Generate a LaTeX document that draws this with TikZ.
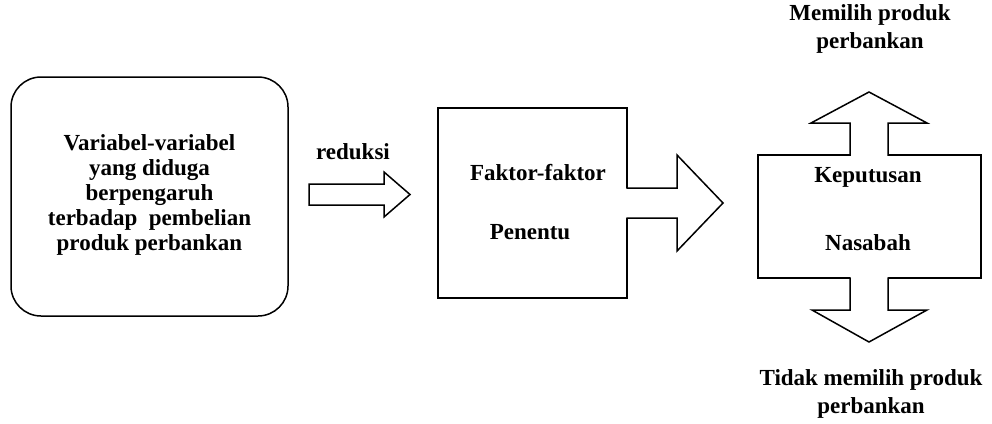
\documentclass[tikz,border=0pt]{standalone}
\usepackage{fontspec}
\setmainfont{Liberation Serif}
\usetikzlibrary{positioning}

\tikzset{
  lbl/.style={font=\fontsize{23}{25}\selectfont\bfseries, align=center, inner sep=0pt},
  frame/.style={draw, line width=1.5pt},
  hollow/.style={draw, line width=1.5pt, line join=miter},
}

\begin{document}
\begin{tikzpicture}[x=1pt, y=-1pt]
    \useasboundingbox (0,0) rectangle (992,423);

    % input variables
    \node [frame, rounded corners=30pt, minimum width=277pt, minimum height=239pt] (vars) at (149.5,196.5) {};
    \node [lbl] (varstext) at (149.5,195) {Variabel-variabel\\yang diduga\\berpengaruh\\terbadap\ \ pembelian\\produk perbankan};

    % reduction step
    \node [lbl] (reduksi) at (353,152) {reduksi};
    \draw [hollow, fill=white] (309,184) -- (384,184) -- (384,172) -- (410,194.5) -- (384,217) -- (384,205) -- (309,205) -- cycle;

    % factors
    \node [frame, minimum width=189pt, minimum height=190pt] (faktor) at (532.5,203) {};
    \node [lbl] (faktorA) at (538,173) {Faktor-faktor};
    \node [lbl] (faktorB) at (530,232) {Penentu};

    \fill [white] (625,188) -- (677,188) -- (677,155) -- (723,203) -- (677,251) -- (677,218) -- (625,218) -- cycle;
    \draw [hollow] (626.25,188) -- (677,188) -- (677,155) -- (723,203) -- (677,251) -- (677,218) -- (626.25,218);

    % decision
    \node [frame, minimum width=223pt, minimum height=123pt] (keputusan) at (869.5,216.5) {};
    \node [lbl] (keputusanA) at (868,177) {Keputusan};
    \node [lbl] (keputusanB) at (868,243) {Nasabah};

    \fill [white] (850,157) -- (850,123) -- (811,123) -- (869,92) -- (927,123) -- (888,123) -- (888,157) -- cycle;
    \draw [hollow] (850,155.75) -- (850,123) -- (811,123) -- (869,92) -- (927,123) -- (888,123) -- (888,155.75);

    \fill [white] (850,276) -- (850,310) -- (812,310) -- (869,342) -- (927,310) -- (888,310) -- (888,276) -- cycle;
    \draw [hollow] (850,277.25) -- (850,310) -- (812,310) -- (869,342) -- (927,310) -- (888,310) -- (888,277.25);

    \node [lbl, font=\fontsize{23}{28}\selectfont\bfseries] (pilih) at (870,29) {Memilih produk\\perbankan};
    \node [lbl, font=\fontsize{23}{28}\selectfont\bfseries] (tidak) at (871,394) {Tidak memilih produk\\perbankan};
\end{tikzpicture}
\end{document}
